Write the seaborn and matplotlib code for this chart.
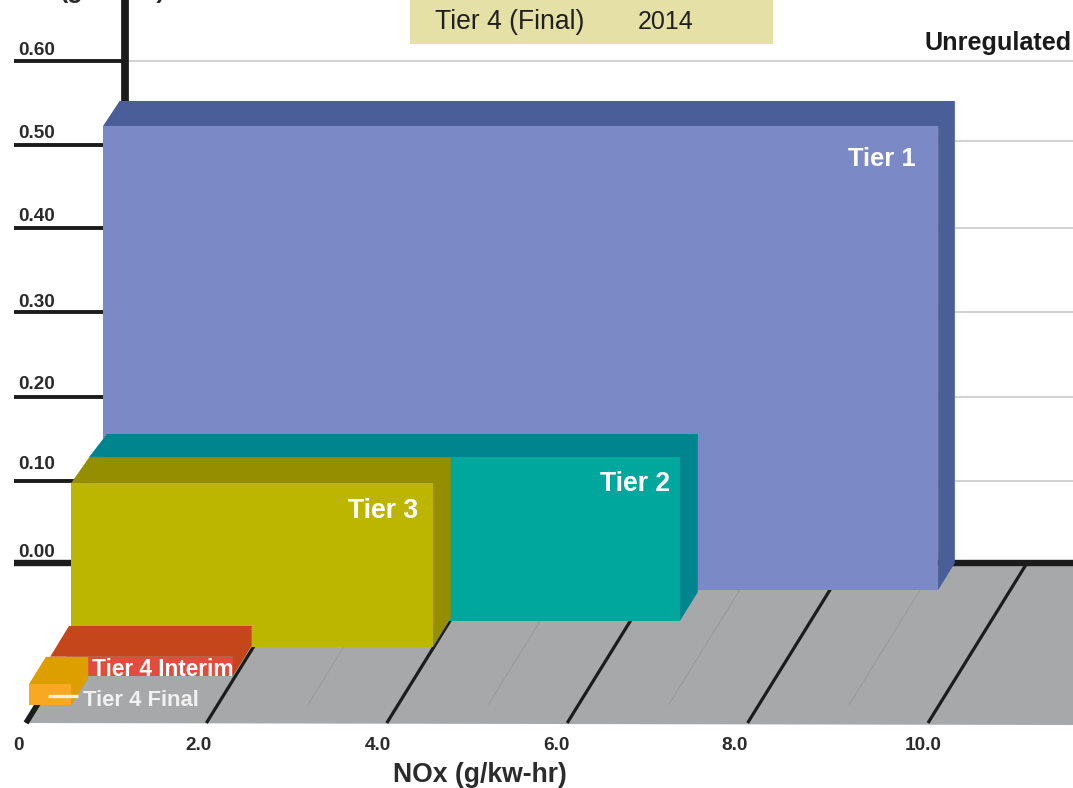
# -*- coding: utf-8 -*-
"""Tier emission standards: PM vs NOx as oblique 3D boxes on a floor."""
import numpy as np, pandas as pd
import matplotlib
matplotlib.use("Agg")
import matplotlib.pyplot as plt
from matplotlib.patches import Rectangle
from matplotlib.transforms import Affine2D
import seaborn as sns

sns.set_theme(style="white")
plt.rcParams["font.family"] = ["Liberation Sans", "DejaVu Sans"]

# values
TIERS = ["Tier 1", "Tier 2", "Tier 3", "Tier 4 Interim", "Tier 4 Final"]
NOX_START = [-0.06, 0.0, -0.02, -0.055, -0.09]
NOX_END = [9.2, 6.55, 3.99, 1.97, 0.38]
PM_FRONT = [0.554, 0.196, 0.196, 0.023, 0.025]
PM_BACK = [0.552, 0.189, 0.192, 0.0234, 0.025]
DEPTH_START = [0.831, 0.6375, 0.475, 0.294, 0.1125]
DEPTH_LEN = [0.169, 0.18, 0.18, 0.19, 0.17]
FRONT_COL = ["#7B8AC6", "#00A79D", "#BCB600", "#E24C3C", "#F8A821"]
TOP_COL = ["#4A5F99", "#00858F", "#958E00", "#C5461A", "#DD9F00"]

PM_TICKS = [0.098, 0.198, 0.3, 0.4, 0.5, 0.6]      # as drawn, slightly off the round values
PM_GRID = [0.098, 0.198, 0.3, 0.4, 0.504, 0.6]
PM_LABELS = ["0.00", "0.10", "0.20", "0.30", "0.40", "0.50", "0.60"]
PM_LABEL_Y = [550, 462, 382, 300, 214, 131, 48]
NOX_TICKS = [0, 2, 4, 6, 8, 10]
NOX_LABELS = ["0", "2.0", "4.0", "6.0", "8.0", "10.0"]
NOX_LABEL_X = [18, 199, 378, 556, 735, 923]
NOX_MINOR = [3, 5, 7, 9]

W, H = 1073, 788
PX_NOX, PX_PM = 90.2, 837.0   # pixels per unit
X0, Y0 = 26.0, 723.0          # pixel of NOx 0, PM 0 at the front of the floor
DX, DY = 99.0 / PX_NOX, 160.0 / PX_PM   # what one unit of depth shifts by

def proj(nox, pm, depth):
    return nox + DX * depth, pm + DY * depth

def lines(ax, segs, color, lw, z, cap="butt"):
    # segs = list of (x0, y0, x1, y1) in axis units
    df = pd.DataFrame([(i, p[0], p[1]) for i, s in enumerate(segs)
                       for p in ((s[0], s[1]), (s[2], s[3]))], columns=["seg", "x", "y"])
    sns.lineplot(data=df, x="x", y="y", units="seg", estimator=None, sort=False, color=color,
                 linewidth=lw, legend=False, ax=ax, zorder=z, solid_capstyle=cap)

fig = plt.figure(figsize=(W / 100, H / 100), dpi=100)
ax = fig.add_axes([0, 0, 1, 1])
RIGHT = (W - X0) / PX_NOX
px = Affine2D().scale(1 / W, -1 / H).translate(0, 1) + fig.transFigure

# floor
floor = [proj(-0.01, 0, 0), proj(-0.01, 0, 1), (RIGHT, DY), (RIGHT, -2 / PX_PM)]
ax.fill(*zip(*floor), color="#A7A8AA", lw=0, zorder=1)

# floor lines
major = [proj(n, 0, 0) + proj(n, 0, 1) for n in NOX_TICKS[1:]]
lines(ax, major, "#1c1c1c", 2.3, 2)
lines(ax, [proj(0, 0, 0) + proj(0, 0, 0.15)], "#1c1c1c", 4, 2)
minor = [proj(n, 0, 0.115) + proj(n, 0, 1) for n in NOX_MINOR]
lines(ax, minor, "#999a9c", 0.8, 1.5)

# back wall grid and ticks
grid = [proj(0, p, 1) + (RIGHT, p + DY) for p in PM_GRID]
lines(ax, grid, "#c9c9c9", 1.2, 1.2)
tick_left = (14 - X0) / PX_NOX
ticks = [(tick_left, p + DY) + proj(0, p, 1) for p in PM_TICKS]
lines(ax, ticks, "#1c1c1c", 2.8, 2)
lines(ax, [(tick_left, DY, RIGHT, DY)], "#1c1c1c", 4.6, 2)
lines(ax, [proj(0, 0, 1) + (proj(0, 0, 1)[0], 723 / PX_PM)], "#1c1c1c", 5.6, 2)

# boxes, back to front
for i in range(len(TIERS)):
    n0, n1 = NOX_START[i], NOX_END[i]
    d0, d1 = DEPTH_START[i], DEPTH_START[i] + DEPTH_LEN[i]
    pf, pb = PM_FRONT[i], PM_BACK[i]
    z = 3 + i
    # top and side share a colour, one outline keeps the seam out
    shell = [proj(n0, pf, d0), proj(n0, pb, d1), proj(n1, pb, d1),
             proj(n1, 0, d1), proj(n1, 0, d0), proj(n1, pf, d0)]
    front = [proj(n0, 0, d0), proj(n0, pf, d0), proj(n1, pf, d0), proj(n1, 0, d0)]
    ax.fill(*zip(*shell), color=TOP_COL[i], lw=0, zorder=z)
    ax.fill(*zip(*front), color=FRONT_COL[i], lw=0, zorder=z)

ax.set_xlim(-X0 / PX_NOX, RIGHT)
ax.set_ylim(-(H - Y0) / PX_PM, Y0 / PX_PM)
ax.set_xlabel(""); ax.set_ylabel("")
ax.set_axis_off()

# text goes in pixel positions, as on the original artwork
def label(x, y, s, size, color="#2b2b2b", weight="bold", ha="left", va="center", z=10):
    if va == "center":
        y += 2.3   # bbox centre sits a bit above the glyph centre
    ax.text(x, y, s, transform=px, fontsize=size * 0.72, color=color, fontweight=weight,
            ha=ha, va=va, zorder=z, clip_on=False)

for t, y in zip(PM_LABELS, PM_LABEL_Y):
    label(18, y, t, 19)
for t, x in zip(NOX_LABELS, NOX_LABEL_X):
    label(x, 743, t, 19, ha="center")

label(480, 773, "NOx (g/kw-hr)", 26.5, ha="center")
label(60, -2, "(g/kw-hr)", 25, va="baseline")
label(925, 41, "Unregulated", 25.3, color="#1a1a1a")
label(916, 157, "Tier 1", 25.5, color="white", ha="right")
label(670, 482, "Tier 2", 26.5, color="white", ha="right")
label(418, 509, "Tier 3", 26.5, color="white", ha="right")
label(92, 667, "Tier 4 Interim", 22.6, color="white")
label(83, 698, "Tier 4 Final", 22, color="#f1f1f1")
ax.plot([48, 78], [696, 696], transform=px, color="#f4efe4", lw=2.4, zorder=9, solid_capstyle="butt")

# legend box, cut off by the top of the picture
ax.add_patch(Rectangle((410, 0), 363, 44, transform=px, color="#E5E1A6", lw=0, zorder=8))
label(435, 20, "Tier 4 (Final)", 26.5, color="#231f20", weight="normal")
label(638, 20, "2014", 25, color="#231f20", weight="normal")

sns.despine(ax=ax, left=True, bottom=True)
fig.savefig("out.png", dpi=100)
